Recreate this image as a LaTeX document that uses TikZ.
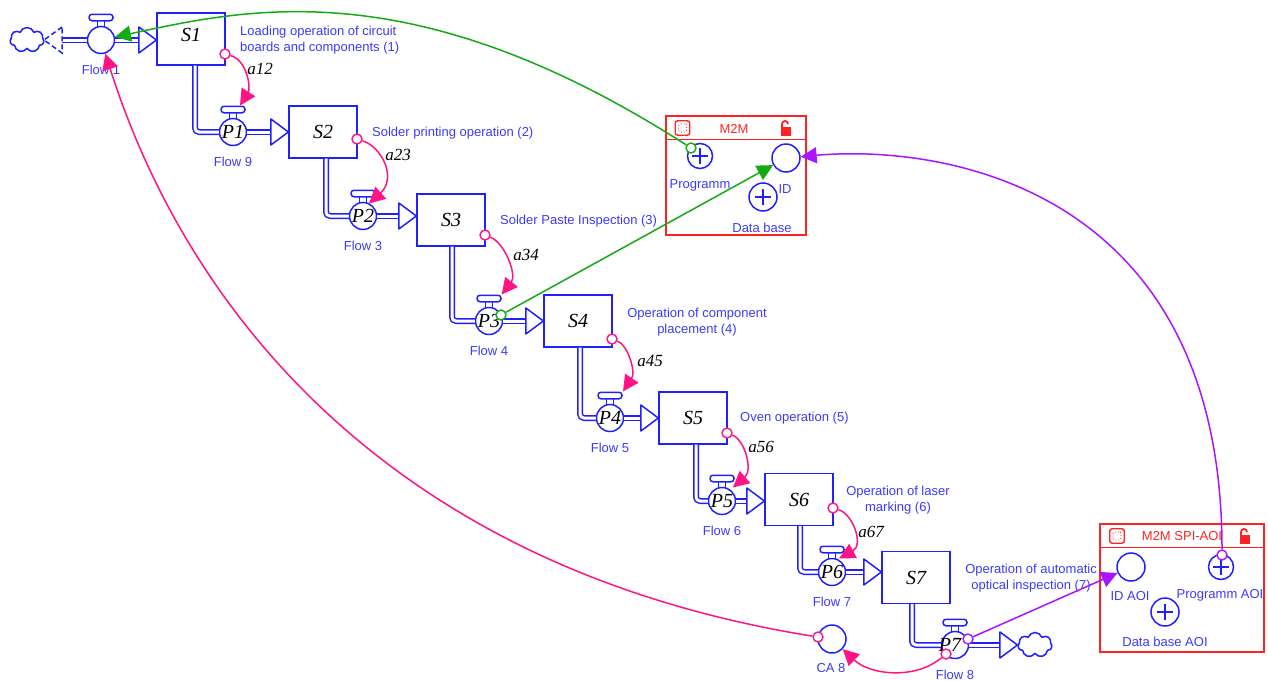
\documentclass[tikz,border=0pt]{standalone}
\usepackage{fontspec}
\setmainfont{Liberation Sans}
\newfontfamily\varfont{Liberation Serif}
\usetikzlibrary{arrows.meta,shapes.symbols}

\definecolor{flowblue}{HTML}{2020FF}
\definecolor{textblue}{HTML}{3A3AFF}
\definecolor{linkpink}{HTML}{FF1485}
\definecolor{linkgreen}{HTML}{14AA14}
\definecolor{linkpurple}{HTML}{AA14FF}
\definecolor{modred}{HTML}{FF2222}

\tikzset{
    txt/.style={text=textblue,font=\fontsize{13}{16}\selectfont,inner sep=0pt,align=center,yshift=-1.5pt},
    stock/.style={draw=flowblue,line width=1.3pt,fill=white,minimum width=68pt,minimum height=52pt,inner sep=0pt,font=\fontsize{20}{20}\varfont\itshape},
    valvenode/.style={circle,draw=flowblue,line width=1.5pt,fill=white,minimum size=27pt,inner sep=0pt,font=\fontsize{20}{20}\varfont\itshape},
    handlenode/.style={draw=flowblue,line width=1.5pt,fill=white,rounded corners=3pt,minimum width=24pt,minimum height=6.5pt,inner sep=0pt},
    stemnode/.style={draw=flowblue,line width=1.5pt,fill=white,minimum width=7pt,minimum height=9pt,inner sep=0pt},
    pipe/.style={draw=flowblue,line width=1.5pt,double=white,double distance=3pt,rounded corners=4pt},
    flowhead/.style={draw=flowblue,line width=1.5pt,fill=white,line join=round},
    cloudnode/.style={cloud,cloud puffs=7,cloud puff arc=140,draw=flowblue,line width=1.5pt,fill=white,minimum width=34pt,minimum height=25pt,inner sep=0pt},
    varlabel/.style={font=\fontsize{17}{17}\varfont\itshape,inner sep=0pt},
    module/.style={draw=modred,line width=1.4pt,inner sep=0pt},
    conv/.style={circle,draw=flowblue,line width=1.5pt,fill=white,minimum size=28pt,inner sep=0pt},
    plusnode/.style={conv,path picture={
        \draw[flowblue,line width=1.3pt] ([xshift=-8pt]path picture bounding box.center) -- ([xshift=8pt]path picture bounding box.center);
        \draw[flowblue,line width=1.3pt] ([yshift=-8pt]path picture bounding box.center) -- ([yshift=8pt]path picture bounding box.center);}},
    iconbox/.style={draw=modred,line width=1.4pt,rounded corners=2.5pt,minimum size=14.5pt,inner sep=0pt},
    iconin/.style={draw=modred,line width=.9pt,dotted,rounded corners=2pt,minimum size=8pt,inner sep=0pt},
    dotnode/.style={circle,fill=white,line width=1.4pt,minimum size=10pt,inner sep=0pt},
    link/.style={line width=1.5pt,-{Triangle[length=16pt,width=16pt]}}
}

% Flow valve: name, position, symbol, flow label
\newcommand{\valve}[4]{
    \node[stemnode] (st#1) at ([yshift=17pt]#2) {};
    \node[handlenode] (h#1) at ([yshift=22.5pt]#2) {};
    \node[valvenode] (#1) at (#2) {#3};
    \node[txt] (f#1) at ([yshift=-28pt]#2) {#4};
}
% Small red padlock, open
\newcommand{\padlock}[2]{
    \fill[modred] (#1-5,#2-1) rectangle (#1+5,#2+8);
    \draw[modred,line width=1.8pt] (#1-4,#2) -- (#1-4,#2-4) .. controls (#1-4,#2-8) and (#1+2,#2-8) .. (#1+2,#2-4);
}

\begin{document}
\begin{tikzpicture}[x=1pt,y=-1pt]
    \useasboundingbox (0,0) rectangle (1268,680);

    % Stocks
    \node[stock] (S1) at (191,39) {\raisebox{4pt}[\height][\depth]{S1}};
    \node[stock] (S2) at (323,132) {S2};
    \node[stock] (S3) at (451,220) {S3};
    \node[stock] (S4) at (578,321) {S4};
    \node[stock] (S5) at (693,418) {S5};
    \node[stock] (S6) at (799,499.5) {S6};
    \node[stock] (S7) at (916,577.5) {S7};

    % Clouds
    \node[cloudnode] (C0) at (27,40) {};
    \node[cloudnode] (C1) at (1035,645) {};

    % Valves
    \valve{V0}{101,40}{}{Flow 1}
    \valve{P1}{233,132}{P1}{Flow 9}
    \valve{P2}{363,216}{P2}{Flow 3}
    \valve{P3}{489,321}{P3}{Flow 4}
    \valve{P4}{610,418}{P4}{Flow 5}
    \valve{P5}{722,501}{P5}{Flow 6}
    \valve{P6}{832,572}{P6}{Flow 7}
    \valve{P7}{955,645}{\makebox[0pt]{\kern-10pt P7}}{Flow 8}

    % Pipes down from the stocks
    \foreach \a/\b/\s in {S1/P1/4,S2/P2/3,S3/P3/1,S4/P4/2,S5/P5/3,S6/P6/1,S7/P7/-4} {
        \draw[pipe] ([xshift=\s pt]\a.south) |- (\b);
    }

    % Pipes out of the valves, with hollow heads
    \foreach \a/\b in {V0/S1,P1/S2,P2/S3,P3/S4,P4/S5,P5/S6,P6/S7,P7/C1} {
        \coordinate (t\a) at (\a -| \b.west);
        \draw[pipe,shorten >=16pt] (\a) -- (t\a);
        \draw[flowhead] ([shift={(-17.5pt,13pt)}]t\a) -- (t\a) -- ([shift={(-17.5pt,-13pt)}]t\a) -- cycle;
    }

    % Dashed head towards the left cloud
    \coordinate (tC0) at (44,40);
    \draw[pipe,shorten >=18pt] (V0) -- (tC0);
    \draw[draw=flowblue,line width=1.5pt,dash pattern=on 5pt off 3pt] ([shift={(18pt,13pt)}]tC0) -- (tC0) -- ([shift={(18pt,-13pt)}]tC0) -- cycle;

    % Flow descriptions
    \node[txt,align=left,anchor=west] (d1) at (240,39) {Loading operation of circuit\\boards and components (1)};
    \node[txt,anchor=west] (d2) at (372,132) {Solder printing operation (2)};
    \node[txt,anchor=west] (d3) at (500,220) {Solder Paste Inspection (3)};
    \node[txt] (d4) at (697,321) {Operation of component\\placement (4)};
    \node[txt,anchor=west] (d5) at (740,417) {Oven operation (5)};
    \node[txt] (d6) at (898,499) {Operation of laser\\marking (6)};
    \node[txt] (d7) at (1031,577) {Operation of automatic\\optical inspection (7)};

    % Module M2M
    \node[module,minimum width=140pt,minimum height=119pt] (M1) at (736,175.5) {};
    \draw[module] ([yshift=-24pt]M1.north west) -- ([yshift=-24pt]M1.north east);
    \node[iconbox] (i1) at (682.5,128) {};
    \node[iconin] at (i1) {};
    \node[txt,text=modred] (m1) at (734,127) {M2M};
    \padlock{786}{128}
    \node[plusnode,minimum size=25pt] (prog) at (700,156) {};
    \node[conv] (id) at (786,158) {};
    \node[plusnode] (db) at (763,197) {};
    \node[txt] (lprog) at (700,184) {Programm};
    \node[txt] (lid) at (785,188) {ID};
    \node[txt] (ldb) at (762,226) {Data base};

    % Module M2M SPI-AOI
    \node[module,minimum width=164pt,minimum height=128pt] (M2) at (1182,588) {};
    \draw[module] ([yshift=-24pt]M2.north west) -- ([yshift=-24pt]M2.north east);
    \node[iconbox] (i2) at (1117,536) {};
    \node[iconin] at (i2) {};
    \node[txt,text=modred] (m2) at (1182,535) {M2M SPI-AOI};
    \padlock{1245}{536}
    \node[conv] (idaoi) at (1131,567) {};
    \node[plusnode,minimum size=25pt] (progaoi) at (1221,567) {};
    \node[plusnode] (dbaoi) at (1165,612) {};
    \node[txt] (lidaoi) at (1130,595) {ID AOI};
    \node[txt] (lprogaoi) at (1220,594) {Programm AOI};
    \node[txt] (ldbaoi) at (1165,640) {Data base AOI};

    % Converter
    \node[conv] (CA) at (832,639) {};
    \node[txt] (lCA) at (831,667) {CA 8};

    % Start dots of the links
    \node[dotnode,draw=linkpink] (a12) at (225,54) {};
    \node[dotnode,draw=linkpink] (a23) at (357,139) {};
    \node[dotnode,draw=linkpink] (a34) at (485,235) {};
    \node[dotnode,draw=linkpink] (a45) at (612,339) {};
    \node[dotnode,draw=linkpink] (a56) at (727,433) {};
    \node[dotnode,draw=linkpink] (a67) at (833,508) {};
    \node[dotnode,draw=linkpink] (b1) at (818,637) {};
    \node[dotnode,draw=linkpink] (b2) at (946,654) {};
    \node[dotnode,draw=linkgreen] (g1) at (691,148) {};
    \node[dotnode,draw=linkgreen] (g2) at (501,315) {};
    \node[dotnode,draw=linkpurple] (v1) at (1222,555) {};
    \node[dotnode,draw=linkpurple] (v2) at (968,639) {};

    % Pink links
    \draw[link,linkpink] (a12) .. controls (247,60) and (251,88) .. ([xshift=7pt]hP1.north);
    \draw[link,linkpink] (a23) .. controls (382,147) and (397,178) .. ([shift={(6pt,-14pt)}]hP2.north);
    \draw[link,linkpink] (a34) .. controls (505,243) and (517,275) .. ([xshift=12.7pt]hP3.north);
    \draw[link,linkpink] (a45) .. controls (628,345) and (636,372) .. ([xshift=13pt]hP4.north);
    \draw[link,linkpink] (a56) .. controls (745,440) and (753,470) .. ([shift={(11pt,-13pt)}]hP5.north);
    \draw[link,linkpink] (a67) .. controls (853,514) and (864,545) .. ([shift={(7pt,-13pt)}]hP6.north);
    \draw[link,linkpink] (b1) .. controls (400,570) and (190,320) .. (V0);
    \draw[link,linkpink] (b2) .. controls (915,680) and (870,675) .. (CA);

    % Green links
    \draw[link,linkgreen] (g1) .. controls (415,-29) and (250,8) .. (V0);
    \draw[link,linkgreen] (g2) -- (id);

    % Purple links
    \draw[link,linkpurple] (v1) .. controls (1222,187) and (943,144) .. (id);
    \draw[link,linkpurple] (v2) -- (idaoi);

    % Link labels
    \node[varlabel] (la12) at (260,69) {a12};
    \node[varlabel] (la23) at (398,155) {a23};
    \node[varlabel] (la34) at (526,255) {a34};
    \node[varlabel] (la45) at (650,361) {a45};
    \node[varlabel] (la56) at (761,447) {a56};
    \node[varlabel] (la67) at (871,532) {a67};
\end{tikzpicture}
\end{document}
